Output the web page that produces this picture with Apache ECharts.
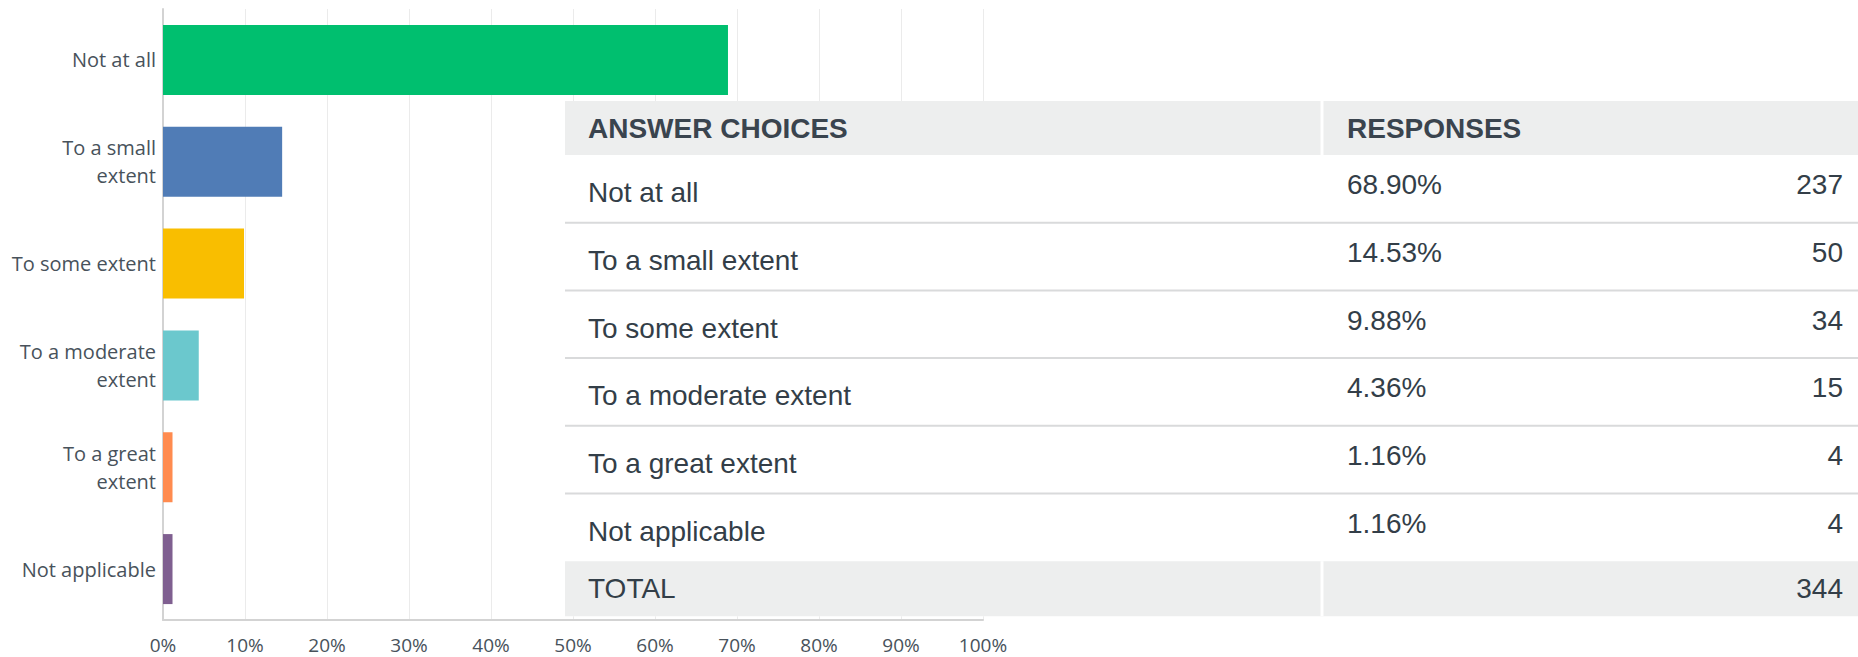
<!DOCTYPE html>
<html>
<head>
<meta charset="utf-8">
<script src="https://cdn.jsdelivr.net/npm/echarts@6/dist/echarts.min.js"></script>
<style>
  html, body { margin: 0; padding: 0; background: #fff; }
  #chart { width: 1858px; height: 657px; }
</style>
</head>
<body>
<div id="chart"></div>
<script>
const categories = ['Not at all', 'To a small extent', 'To some extent', 'To a moderate extent', 'To a great extent', 'Not applicable'];
const axisLabels = ['Not at all', 'To a small\nextent', 'To some extent', 'To a moderate\nextent', 'To a great\nextent', 'Not applicable'];
const percents = [68.90, 14.53, 9.88, 4.36, 1.16, 1.16];
const counts = [237, 50, 34, 15, 4, 4];
const total = 344;
const colors = ['#00bf6f', '#507cb6', '#f9be00', '#6bc8cd', '#ff8b4f', '#7f5f90'];

const chart = echarts.init(document.getElementById('chart'), null, { renderer: 'svg' });

// table laid over the right part of the chart
const T = { left: 565, right: 1858, top: 101, headH: 54, rowH: 67.7, totalH: 55, split: 1322, textX: 588, pctX: 1347, countX: 1843 };
const ink = '#333e48';
const font = '28px "Liberation Sans", Arial, sans-serif';
const boldFont = 'bold 28px "Liberation Sans", Arial, sans-serif';

function txt(text, x, y, f, align, fill) {
  return { type: 'text', z: 20, silent: true, style: { text, x, y, font: f, fill: fill || ink, textAlign: align || 'left', textVerticalAlign: 'middle' } };
}

const graphic = [];
const bodyTop = T.top + T.headH;
const totalTop = bodyTop + T.rowH * categories.length;
graphic.push({ type: 'rect', z: 10, silent: true, shape: { x: T.left, y: T.top, width: T.right - T.left, height: totalTop + T.totalH - T.top }, style: { fill: '#fff' } });
graphic.push({ type: 'rect', z: 11, silent: true, shape: { x: T.left, y: T.top, width: T.right - T.left, height: T.headH }, style: { fill: '#edeeee' } });
graphic.push({ type: 'rect', z: 11, silent: true, shape: { x: T.left, y: totalTop, width: T.right - T.left, height: T.totalH }, style: { fill: '#edeeee' } });
graphic.push({ type: 'line', z: 12, silent: true, shape: { x1: T.split, y1: T.top, x2: T.split, y2: T.top + T.headH }, style: { stroke: '#fff', lineWidth: 3 } });
graphic.push({ type: 'line', z: 12, silent: true, shape: { x1: T.split, y1: totalTop, x2: T.split, y2: totalTop + T.totalH }, style: { stroke: '#fff', lineWidth: 3 } });
graphic.push(txt('ANSWER CHOICES', T.textX, T.top + T.headH / 2, boldFont, 'left', '#3a444e'));
graphic.push(txt('RESPONSES', T.pctX, T.top + T.headH / 2, boldFont, 'left', '#3a444e'));

categories.forEach((c, i) => {
  const top = bodyTop + i * T.rowH;
  const mid = top + T.rowH / 2;
  if (i > 0) {
    graphic.push({ type: 'line', z: 12, silent: true, shape: { x1: T.left, y1: top, x2: T.right, y2: top }, style: { stroke: '#d9dadb', lineWidth: 2 } });
  }
  graphic.push(txt(c, T.textX, mid + 4, font));
  graphic.push(txt(percents[i].toFixed(2) + '%', T.pctX, mid - 4, font));
  graphic.push(txt(String(counts[i]), T.countX, mid - 4, font, 'right'));
});
graphic.push(txt('TOTAL', T.textX, totalTop + T.totalH / 2, font));
graphic.push(txt(String(total), T.countX, totalTop + T.totalH / 2, font, 'right'));

const labelStyle = { color: '#48525b', fontSize: 20, fontFamily: '"Open Sans", sans-serif' };

chart.setOption({
  animation: false,
  backgroundColor: '#fff',
  grid: { left: 163, right: 875, top: 9, bottom: 37, containLabel: false },
  xAxis: {
    type: 'value',
    min: 0,
    max: 100,
    interval: 10,
    axisLine: { show: true, lineStyle: { color: '#d3d3d3', width: 2 } },
    axisTick: { show: false },
    splitLine: { lineStyle: { color: '#ebebeb', width: 1 } },
    axisLabel: { ...labelStyle, fontSize: 19, margin: 15, formatter: '{value}%' },
  },
  yAxis: {
    type: 'category',
    data: axisLabels,
    inverse: true,
    axisLine: { show: true, lineStyle: { color: '#d3d3d3', width: 2 } },
    axisTick: { show: false },
    splitLine: { show: false },
    axisLabel: { ...labelStyle, margin: 7, lineHeight: 28 },
  },
  series: [{
    type: 'bar',
    barWidth: 70,
    data: percents.map((v, i) => ({ value: v, itemStyle: { color: colors[i] } })),
  }],
  graphic,
});
</script>
</body>
</html>
